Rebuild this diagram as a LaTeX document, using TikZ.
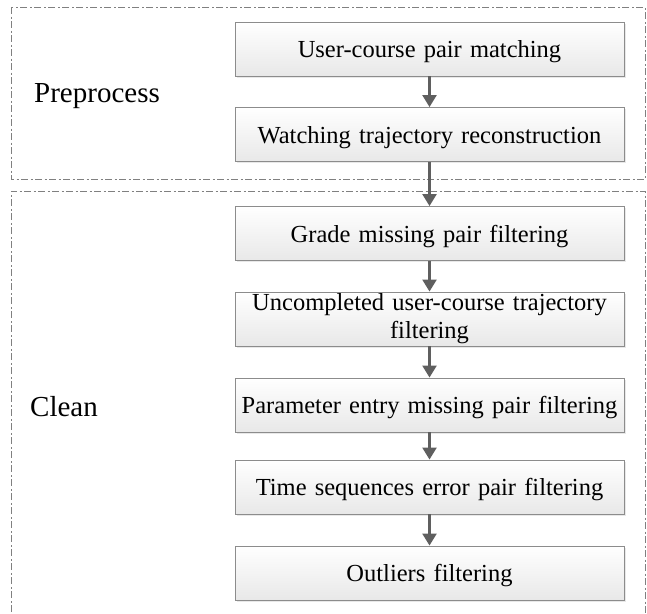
\documentclass[tikz,border=0pt]{standalone}
\usepackage{fontspec}
\setmainfont{Liberation Serif}
\usetikzlibrary{arrows.meta,shadows}
\definecolor{boxline}{HTML}{8C8C8C}
\definecolor{arrowcol}{HTML}{5F5F5F}
\definecolor{groupline}{HTML}{808080}
\tikzset{
  procbox/.style={draw=boxline, line width=0.9pt, top color=white, bottom color=black!9,
    minimum width=389pt, minimum height=54pt, text width=380pt, align=center,
    inner sep=0pt, font=\fontsize{24.5}{28}\selectfont,
    drop shadow={shadow xshift=1.5pt, shadow yshift=-1.5pt, fill=black!15, opacity=0.6}},
  oneline/.style={procbox, text depth=0pt},
  flow/.style={draw=arrowcol, line width=2.4pt, -{Triangle[width=14pt,length=12pt]}},
  group/.style={draw=groupline, line width=0.8pt, dash pattern=on 7pt off 2.5pt on 2pt off 2.5pt},
  grouplabel/.style={font=\fontsize{29}{32}\selectfont, inner sep=0pt}
}
\begin{document}
\begin{tikzpicture}[x=1pt,y=-1pt]
\useasboundingbox (0,0) rectangle (647,613);
\draw[group] (11,7) rectangle (645,179);
\draw[group] (11,640) -- (11,191) -- (645,191) -- (645,640);
\node[grouplabel] (pre) at (97,96) {Preprocess};
\node[grouplabel] (clean) at (64,407) {Clean};
\node[oneline] (b1) at (429.5,49) {User-course pair matching};
\node[oneline] (b2) at (429.5,134.5) {Watching trajectory reconstruction};
\node[oneline] (b3) at (429.5,233.5) {Grade missing pair filtering};
\node[procbox] (b4) at (429.5,319) {Uncompleted user-course trajectory\\filtering};
\node[oneline] (b5) at (429.5,405) {Parameter entry missing pair filtering};
\node[oneline] (b6) at (429.5,487) {Time sequences error pair filtering};
\node[oneline] (b7) at (429.5,573) {Outliers filtering};
\draw[flow] (b1) -- (b2);
\draw[flow] (b2) -- (b3);
\draw[flow] (b3) -- (b4);
\draw[flow] (b4) -- (b5);
\draw[flow] (b5) -- (b6);
\draw[flow] (b6) -- (b7);
\end{tikzpicture}
\end{document}
